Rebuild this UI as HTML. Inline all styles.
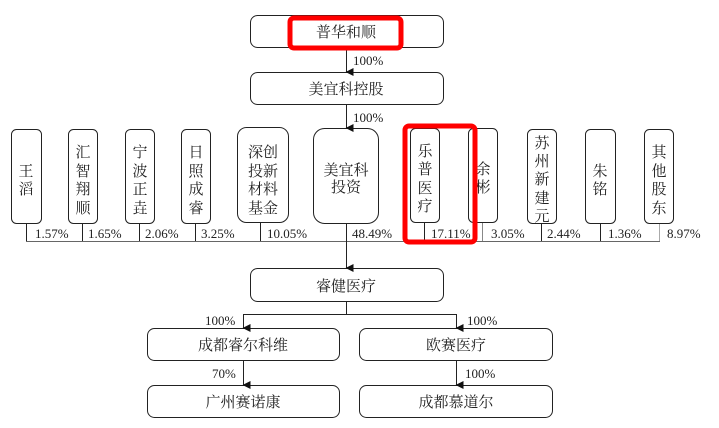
<!DOCTYPE html>
<html><head><meta charset="utf-8"><style>
html,body{margin:0;padding:0;background:#fff;}
svg{display:block;}
text{font-family:"Liberation Serif","Noto Serif CJK SC","Noto Sans CJK SC",serif;fill:#222;}
</style></head><body>
<svg width="719" height="428" viewBox="0 0 719 428" xmlns="http://www.w3.org/2000/svg">
<defs>
<marker id="a" markerWidth="8" markerHeight="8" refX="4" refY="7" orient="auto" markerUnits="userSpaceOnUse">
<path d="M0,0 L8,0 L4,8 z" fill="#111"/>
</marker>
</defs>
<g fill="#fff" stroke="#222" stroke-width="1">
<rect x="250.5" y="15.5" width="193" height="32" rx="7"/>
<rect x="250.5" y="72.5" width="193" height="32" rx="7"/>
<rect x="11.5" y="129.5" width="30" height="94" rx="5"/>
<rect x="68.5" y="129.5" width="29" height="94" rx="5"/>
<rect x="125.5" y="129.5" width="29" height="94" rx="5"/>
<rect x="181.5" y="129.5" width="29" height="94" rx="5"/>
<rect x="237.5" y="127.5" width="51" height="95" rx="9"/>
<rect x="313.5" y="128.5" width="65" height="95" rx="11"/>
<rect x="410.5" y="128.5" width="29" height="94" rx="5"/>
<rect x="468.5" y="128.5" width="29" height="94" rx="5"/>
<rect x="527.5" y="129.5" width="29" height="94" rx="5"/>
<rect x="585.5" y="129.5" width="30" height="94" rx="5"/>
<rect x="644.5" y="129.5" width="29" height="94" rx="5"/>
<rect x="250.5" y="268.5" width="193" height="33" rx="7"/>
<rect x="147.5" y="328.5" width="192" height="32" rx="7"/>
<rect x="359.5" y="328.5" width="193" height="32" rx="7"/>
<rect x="147.5" y="385.5" width="192" height="32" rx="7"/>
<rect x="359.5" y="385.5" width="193" height="32" rx="7"/>
</g>
<g stroke="#222" stroke-width="1" fill="none">
<line x1="346.5" y1="48" x2="346.5" y2="72" marker-end="url(#a)"/>
<line x1="346.5" y1="105" x2="346.5" y2="128" marker-end="url(#a)"/>
<line x1="26" y1="241.5" x2="660" y2="241.5" stroke="#666"/>
<line x1="26.5" y1="224" x2="26.5" y2="241"/>
<line x1="82.5" y1="224" x2="82.5" y2="241"/>
<line x1="139.5" y1="224" x2="139.5" y2="241"/>
<line x1="195.5" y1="224" x2="195.5" y2="241"/>
<line x1="260.5" y1="223" x2="260.5" y2="241"/>
<line x1="424.5" y1="223" x2="424.5" y2="241"/>
<line x1="482.5" y1="223" x2="482.5" y2="241" stroke="#888"/>
<line x1="541.5" y1="224" x2="541.5" y2="241"/>
<line x1="600.5" y1="224" x2="600.5" y2="241"/>
<line x1="659.5" y1="224" x2="659.5" y2="241" stroke="#aaa"/>
<line x1="346.5" y1="224" x2="346.5" y2="268" marker-end="url(#a)"/>
<line x1="346.5" y1="302" x2="346.5" y2="314"/>
<line x1="243" y1="314.5" x2="457" y2="314.5"/>
<line x1="243.5" y1="314" x2="243.5" y2="328" marker-end="url(#a)"/>
<line x1="456.5" y1="314" x2="456.5" y2="328" marker-end="url(#a)"/>
<line x1="243.5" y1="361" x2="243.5" y2="385" marker-end="url(#a)"/>
<line x1="456.5" y1="361" x2="456.5" y2="385" marker-end="url(#a)"/>
</g>
<g font-size="15" text-anchor="middle">
<text x="346" y="37">普华和顺</text>
<text x="346" y="94">美宜科控股</text>
<text x="346" y="291">睿健医疗</text>
<text x="243" y="350">成都睿尔科维</text>
<text x="456" y="350">欧赛医疗</text>
<text x="243" y="407">广州赛诺康</text>
<text x="456" y="407">成都慕道尔</text>
<text x="26" y="176">王</text><text x="26" y="194">滔</text>
<text x="83" y="157">汇</text><text x="83" y="176">智</text><text x="83" y="194">翔</text><text x="83" y="213">顺</text>
<text x="140" y="157">宁</text><text x="140" y="176">波</text><text x="140" y="194">正</text><text x="140" y="213">垚</text>
<text x="196" y="157">日</text><text x="196" y="176">照</text><text x="196" y="194">成</text><text x="196" y="213">睿</text>
<text x="263" y="157">深创</text><text x="263" y="176">投新</text><text x="263" y="194">材料</text><text x="263" y="213">基金</text>
<text x="346" y="175">美宜科</text><text x="346" y="192">投资</text>
<text x="425" y="156">乐</text><text x="425" y="174">普</text><text x="425" y="193">医</text><text x="425" y="211">疗</text>
<text x="483" y="174">余</text><text x="483" y="192">彬</text>
<text x="542" y="148">苏</text><text x="542" y="166">州</text><text x="542" y="184">新</text><text x="542" y="203">建</text><text x="542" y="221">元</text>
<text x="600" y="176">朱</text><text x="600" y="194">铭</text>
<text x="659" y="157">其</text><text x="659" y="176">他</text><text x="659" y="194">股</text><text x="659" y="213">东</text>
</g>
<g font-size="13">
<text x="353" y="65">100%</text>
<text x="353" y="122">100%</text>
<text x="35" y="238">1.57%</text>
<text x="88" y="238">1.65%</text>
<text x="145" y="238">2.06%</text>
<text x="201" y="238">3.25%</text>
<text x="267" y="238">10.05%</text>
<text x="352" y="238">48.49%</text>
<text x="431" y="238">17.11%</text>
<text x="491" y="238">3.05%</text>
<text x="547" y="238">2.44%</text>
<text x="608" y="238">1.36%</text>
<text x="667" y="238">8.97%</text>
<text x="205" y="325">100%</text>
<text x="467" y="325">100%</text>
<text x="212" y="378">70%</text>
<text x="465" y="378">100%</text>
</g>
<g fill="none" stroke="#f00" stroke-width="5">
<rect x="290" y="18" width="111" height="30" rx="4"/>
<rect x="405" y="126" width="70" height="116" rx="4"/>
</g>
</svg>
</body></html>
